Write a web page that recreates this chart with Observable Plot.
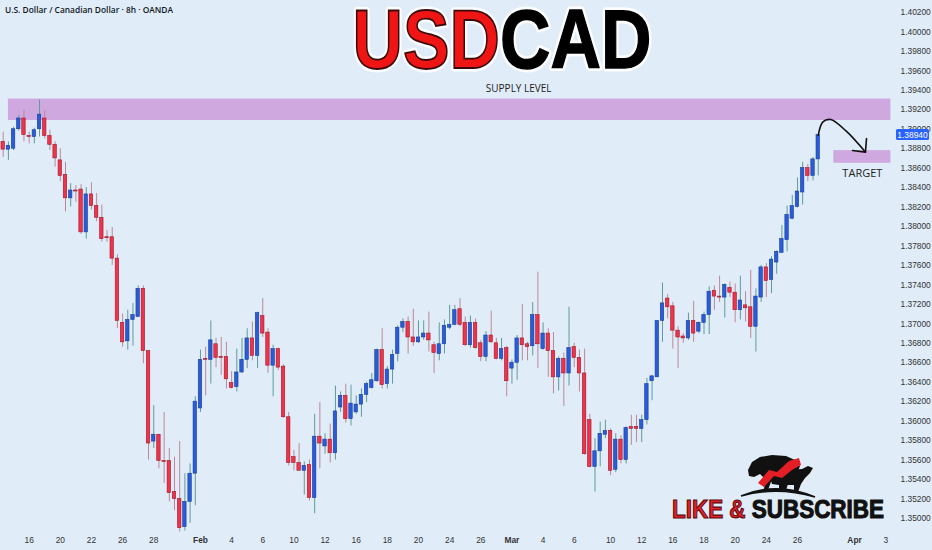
<!DOCTYPE html>
<html><head><meta charset="utf-8">
<script src="https://cdn.jsdelivr.net/npm/d3@7"></script>
<script src="https://cdn.jsdelivr.net/npm/@observablehq/plot@0.6"></script>
<style>
html,body{margin:0;padding:0;background:#e0edf9;}
#chart{width:932px;height:550px;overflow:hidden;}
</style></head><body><div id="chart"></div>
<script>
// ---- Data (8h candles, USDCAD, OANDA) ----
const open = [1.3887,1.3879,1.3880,1.3900,1.3911,1.3893,1.3892,1.3900,1.3911,1.3893,
1.3884,1.3868,1.3853,1.3829,1.3837,1.3838,1.3794,1.3833,1.3821,1.3809,
1.3789,1.3789,1.3767,1.3701,1.3682,1.3704,1.3707,1.3736,1.3672,1.3579,
1.3586,1.3559,1.3559,1.3527,1.3520,1.3491,1.3517,1.3546,1.3613,1.3664,
1.3663,1.3679,1.3666,1.3666,1.3639,1.3635,1.3650,1.3663,1.3685,1.3667,
1.3708,1.3691,1.3657,1.3674,1.3656,1.3604,1.3563,1.3557,1.3549,1.3555,
1.3521,1.3584,1.3574,1.3581,1.3567,1.3614,1.3626,1.3602,1.3609,1.3617,
1.3627,1.3634,1.3641,1.3673,1.3638,1.3653,1.3669,1.3696,1.3702,1.3686,
1.3681,1.3686,1.3690,1.3678,1.3669,1.3679,1.3696,1.3699,1.3715,1.3701,
1.3678,1.3701,1.3680,1.3666,1.3688,1.3680,1.3664,1.3675,1.3654,1.3660,
1.3685,1.3679,1.3677,1.3709,1.3674,1.3690,1.3672,1.3645,1.3664,1.3649,
1.3676,1.3665,1.3649,1.3601,1.3553,1.3569,1.3586,1.3590,1.3550,1.3581,
1.3560,1.3594,1.3594,1.3592,1.3601,1.3641,1.3645,1.3703,1.3726,1.3718,
1.3693,1.3687,1.3685,1.3703,1.3692,1.3701,1.3709,1.3734,1.3728,1.3727,
1.3737,1.3732,1.3714,1.3719,1.3717,1.3697,1.3727,1.3758,1.3745,1.3763,
1.3773,1.3786,1.3808,1.3820,1.3835,1.3860,1.3852,1.3869];
const high = [1.3897,1.3887,1.3902,1.3914,1.3919,1.3897,1.3901,1.3930,1.3919,1.3899,
1.3887,1.3880,1.3866,1.3844,1.3842,1.3843,1.3840,1.3845,1.3834,1.3822,
1.3796,1.3799,1.3771,1.3710,1.3714,1.3721,1.3739,1.3739,1.3672,1.3616,
1.3586,1.3609,1.3572,1.3563,1.3579,1.3546,1.3556,1.3625,1.3673,1.3676,
1.3703,1.3685,1.3686,1.3681,1.3651,1.3674,1.3685,1.3695,1.3702,1.3712,
1.3726,1.3695,1.3678,1.3675,1.3658,1.3609,1.3570,1.3577,1.3558,1.3560,
1.3607,1.3619,1.3587,1.3597,1.3636,1.3630,1.3638,1.3637,1.3626,1.3633,
1.3640,1.3649,1.3674,1.3695,1.3656,1.3673,1.3698,1.3705,1.3707,1.3715,
1.3703,1.3703,1.3712,1.3681,1.3701,1.3704,1.3719,1.3719,1.3726,1.3707,
1.3708,1.3705,1.3683,1.3692,1.3713,1.3685,1.3685,1.3677,1.3663,1.3688,
1.3720,1.3681,1.3722,1.3753,1.3701,1.3695,1.3691,1.3666,1.3670,1.3717,
1.3680,1.3673,1.3674,1.3607,1.3582,1.3599,1.3601,1.3592,1.3587,1.3585,
1.3594,1.3606,1.3606,1.3606,1.3644,1.3647,1.3703,1.3742,1.3730,1.3722,
1.3697,1.3690,1.3711,1.3723,1.3702,1.3712,1.3738,1.3739,1.3749,1.3741,
1.3743,1.3741,1.3749,1.3733,1.3755,1.3736,1.3760,1.3762,1.3769,1.3775,
1.3801,1.3821,1.3832,1.3850,1.3866,1.3864,1.3871,1.3895];
const low = [1.3871,1.3868,1.3878,1.3898,1.3887,1.3885,1.3885,1.3892,1.3890,1.3878,
1.3861,1.3846,1.3815,1.3820,1.3825,1.3792,1.3787,1.3817,1.3805,1.3784,
1.3784,1.3760,1.3695,1.3676,1.3673,1.3677,1.3707,1.3659,1.3560,1.3572,
1.3551,1.3536,1.3517,1.3508,1.3486,1.3487,1.3495,1.3513,1.3609,1.3626,
1.3638,1.3655,1.3647,1.3633,1.3633,1.3630,1.3649,1.3654,1.3662,1.3654,
1.3686,1.3649,1.3625,1.3652,1.3603,1.3554,1.3549,1.3549,1.3524,1.3518,
1.3505,1.3551,1.3566,1.3557,1.3560,1.3609,1.3598,1.3595,1.3607,1.3604,
1.3619,1.3633,1.3640,1.3633,1.3633,1.3638,1.3661,1.3691,1.3669,1.3677,
1.3680,1.3683,1.3671,1.3649,1.3662,1.3669,1.3694,1.3698,1.3697,1.3677,
1.3675,1.3674,1.3661,1.3661,1.3680,1.3663,1.3662,1.3625,1.3638,1.3642,
1.3662,1.3662,1.3667,1.3654,1.3673,1.3645,1.3628,1.3631,1.3615,1.3636,
1.3655,1.3630,1.3565,1.3552,1.3527,1.3553,1.3582,1.3544,1.3547,1.3556,
1.3556,1.3575,1.3578,1.3578,1.3596,1.3621,1.3645,1.3681,1.3705,1.3674,
1.3654,1.3680,1.3683,1.3681,1.3690,1.3689,1.3689,1.3714,1.3722,1.3706,
1.3727,1.3701,1.3704,1.3702,1.3685,1.3671,1.3722,1.3727,1.3731,1.3751,
1.3773,1.3774,1.3807,1.3819,1.3822,1.3846,1.3847,1.3852];
const close = [1.3879,1.3883,1.3900,1.3911,1.3894,1.3892,1.3899,1.3915,1.3893,1.3884,
1.3870,1.3852,1.3829,1.3837,1.3836,1.3794,1.3833,1.3821,1.3809,1.3787,
1.3788,1.3767,1.3703,1.3681,1.3704,1.3709,1.3736,1.3672,1.3577,1.3586,
1.3559,1.3558,1.3526,1.3520,1.3490,1.3517,1.3546,1.3620,1.3663,1.3663,
1.3683,1.3665,1.3665,1.3643,1.3634,1.3650,1.3663,1.3685,1.3667,1.3711,
1.3690,1.3657,1.3674,1.3655,1.3604,1.3557,1.3557,1.3549,1.3554,1.3521,
1.3584,1.3577,1.3581,1.3567,1.3610,1.3626,1.3602,1.3618,1.3617,1.3627,
1.3638,1.3642,1.3673,1.3637,1.3653,1.3668,1.3696,1.3702,1.3686,1.3681,
1.3686,1.3690,1.3683,1.3670,1.3679,1.3698,1.3699,1.3714,1.3699,1.3678,
1.3701,1.3675,1.3666,1.3688,1.3681,1.3664,1.3674,1.3641,1.3660,1.3685,
1.3678,1.3676,1.3709,1.3679,1.3690,1.3672,1.3645,1.3664,1.3649,1.3675,
1.3665,1.3649,1.3566,1.3553,1.3569,1.3587,1.3590,1.3549,1.3581,1.3560,
1.3593,1.3592,1.3592,1.3601,1.3638,1.3646,1.3703,1.3721,1.3717,1.3693,
1.3686,1.3685,1.3703,1.3690,1.3701,1.3709,1.3733,1.3728,1.3727,1.3740,
1.3732,1.3714,1.3724,1.3716,1.3697,1.3728,1.3758,1.3744,1.3766,1.3774,
1.3787,1.3812,1.3821,1.3836,1.3860,1.3852,1.3869,1.3894];

const xTickIndex  = [5,11,17,23,29,38,44,50,56,62,68,74,80,86,92,98,104,110,117,123,129,135,141,147,153,164,170];
const xTickLabels = ["16","20","22","26","28","Feb","4","6","10","12","16","18","20","24","26","Mar","4","6","10","12","16","18","20","24","26","Apr","3"];
const yTicks = [1.350,1.352,1.354,1.356,1.358,1.360,1.362,1.364,1.366,1.368,1.370,1.372,1.374,1.376,1.378,1.380,1.382,1.384,1.386,1.388,1.390,1.392,1.394,1.396,1.398,1.400,1.402];

// zones & annotation anchors (data units: candle index, price)
const zones = [
  {name:"supply", start:1, end:171, low:1.3909, high:1.3931},
  {name:"target", start:160, end:171, low:1.3865, high:1.3878}
];
const zoneLabels = [
  {text:"SUPPLY LEVEL", i:99.3, p:1.3942, size:10},
  {text:"TARGET", i:165.5, p:1.38545, size:11}
];
const arrowPath = [
  {i:157.0, p:1.38936},{i:157.9, p:1.39075},{i:159.4, p:1.39100},{i:162.3, p:1.38985},{i:166.1, p:1.38765}
];
const arrowHead = [{i:163.6, p:1.38782},{i:166.1, p:1.38765},{i:166.3, p:1.38905}];

const candles = open.map((o, i) => ({i, open:o, high:high[i], low:low[i], close:close[i], up: close[i] >= o}));
const lastClose = close[close.length - 1];

const BG = "#e0edf9";
const UP = "#2a5cd8", DOWN = "#f0334a";

const monthNames = new Set(["Feb","Mar","Apr"]);
const dayTicks = xTickIndex.filter((d,k) => !monthNames.has(xTickLabels[k]));
const monthTicks = xTickIndex.filter((d,k) => monthNames.has(xTickLabels[k]));
const lab = d => xTickLabels[xTickIndex.indexOf(d)];

const plot = Plot.plot({
  width: 932, height: 550,
  marginLeft: 0, marginRight: 39, marginTop: 0, marginBottom: 20,
  style: {background: BG, fontFamily: "'Liberation Sans', Arial, sans-serif", overflow: "visible"},
  x: {domain: [-0.52, 171.5], axis: null},
  y: {domain: [1.34876, 1.40323], axis: null},
  marks: [
    Plot.rect(zones, {x1:"start", x2:"end", y1:"low", y2:"high", fill:"#cea8df"}),
    Plot.ruleX(candles, {x:"i", y1:"low", y2:"high", stroke: d => d.up ? "#5f9a9c" : "#bd8795", strokeWidth: 1}),
    Plot.rect(candles, {x1: d => d.i - 0.33, x2: d => d.i + 0.33, y1:"open", y2:"close",
      fill: d => d.up ? UP : DOWN, stroke: d => d.up ? "#173d9c" : "#9e1728", strokeWidth: 0.6}),
    Plot.line(arrowPath, {x:"i", y:"p", curve:"catmull-rom", stroke:"#111", strokeWidth:1.6}),
    Plot.line(arrowHead, {x:"i", y:"p", stroke:"#111", strokeWidth:1.6, strokeLinejoin:"round"}),
    Plot.text(zoneLabels, {x:"i", y:"p", text:"text", fontSize: d => d.size, fill:"#222",
      fontFamily:"'Open Sans', sans-serif"}),
    Plot.axisY(yTicks, {anchor:"right", tickSize:0, tickPadding:7, tickFormat: d3.format(".5f"),
      fontSize: 8.4, color:"#333", fontFamily:"'Liberation Sans', sans-serif"}),
    Plot.axisX(dayTicks, {anchor:"bottom", tickSize:0, tickPadding:7, tickFormat: lab, fontSize: 8.4, color:"#333"}),
    Plot.axisX(monthTicks, {anchor:"bottom", tickSize:0, tickPadding:7, tickFormat: lab, fontSize: 8.4, color:"#333", fontWeight:"bold"})
  ]
});
document.getElementById("chart").appendChild(plot);

const svg = d3.select(plot);
const ys = plot.scale("y");

// price tag of the last close
const py = ys.apply(lastClose);
svg.append("rect").attr("x", 896).attr("y", py - 5.5).attr("width", 33).attr("height", 11).attr("rx", 1.5).attr("fill", "#2962ff");
svg.append("text").attr("x", 912.5).attr("y", py + 3).attr("text-anchor", "middle")
  .attr("font-size", 8.4).attr("fill", "#fff").attr("font-family", "'Liberation Sans', sans-serif")
  .text(d3.format(".5f")(lastClose));

// header
svg.append("text").attr("x", 5).attr("y", 13).attr("text-anchor", "start").attr("font-size", 8.4).attr("font-weight", 600)
  .attr("font-family", "'Open Sans', sans-serif").attr("fill", "#131722")
  .text("U.S. Dollar / Canadian Dollar · 8h · OANDA");

// big title
function title(layer) {
  const t = svg.append("text").attr("x", 502).attr("y", 68).attr("text-anchor", "middle")
    .attr("font-size", 83).attr("font-weight", "bold").attr("font-family", "'Liberation Sans', Arial, sans-serif")
    .attr("textLength", 299).attr("lengthAdjust", "spacingAndGlyphs");
  if (layer === 0) {
    t.attr("fill", "#fff").attr("stroke", "#fff").attr("stroke-width", 7).attr("stroke-linejoin", "round").attr("opacity", 0.9);
    t.text("USDCAD");
  } else {
    t.append("tspan").attr("fill", "#f01515").attr("stroke", "#3a0a0a").attr("stroke-width", 1.8).text("USD");
    t.append("tspan").attr("fill", "#000").attr("stroke", "#000").attr("stroke-width", 1.4).text("CAD");
  }
}
title(0); title(1);

// like & subscribe logo
const logo = svg.append("g");
logo.append("path").attr("d", "M741,496 Q777,481 815,497 Q777,486 741,496 Z").attr("fill", "#111").attr("stroke", "#111").attr("stroke-width", 1.6);
logo.append("path").attr("d", "M748,470 L752,462 L760,457 L772,455 L786,456 L795,460 L800,466 L797,474 L790,478 L786,490 L782,490 L782,480 L772,479 L768,490 L764,490 L765,479 L760,474 L754,477 L749,476 Z").attr("fill", "#111");
logo.append("path").attr("d", "M770,478 L790,470 L802,469 L808,466 L813,468 L810,473 L805,478 L801,484 L798,492 L794,492 L794,485 L786,485 L783,492 L779,492 L779,485 L772,484 Z").attr("fill", "#111");
logo.append("path").attr("d", "M758,483 L769,470 L777,472 L789,461 L799,458 L801,465 L792,470 L782,478 L774,476 L764,487 Z").attr("fill", "#e31e24");
const lt = logo.append("text").attr("x", 672).attr("y", 518).attr("text-anchor", "start").attr("font-size", 25).attr("font-weight", "bold")
  .attr("font-family", "'Liberation Sans', Arial, sans-serif").attr("textLength", 212).attr("lengthAdjust", "spacingAndGlyphs");
lt.append("tspan").attr("fill", "#e8202a").attr("stroke", "#5a0a0a").attr("stroke-width", 1.1).text("LIKE & ");
lt.append("tspan").attr("fill", "#111").attr("stroke", "#111").attr("stroke-width", 1.1).text("SUBSCRIBE");
</script></body></html>
